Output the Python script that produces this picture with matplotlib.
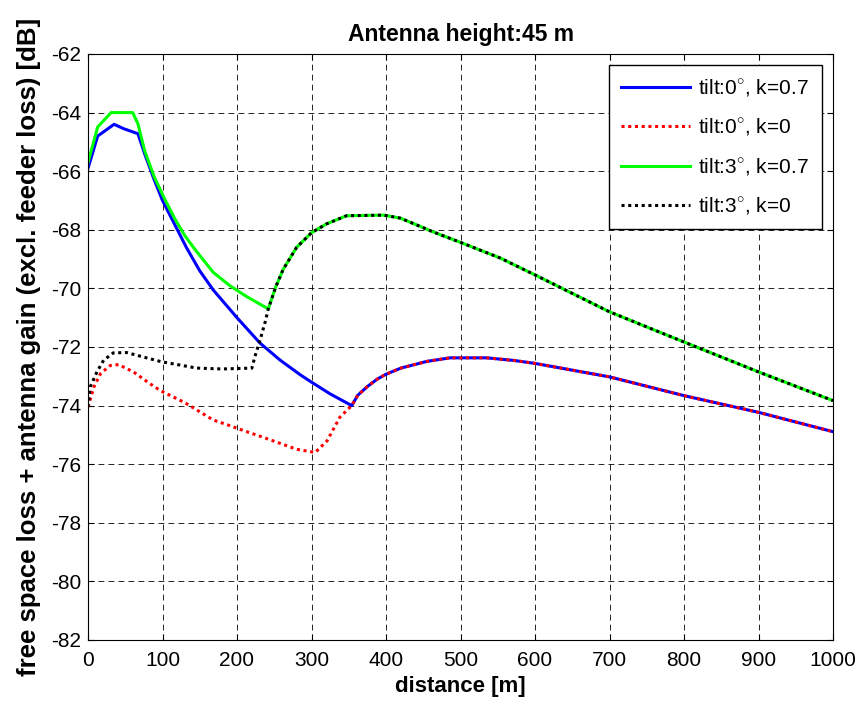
import matplotlib
matplotlib.use("Agg")
import numpy as np
import matplotlib.pyplot as plt

plt.rcParams['font.family'] = ['Liberation Sans', 'DejaVu Sans']
plt.rcParams['mathtext.fontset'] = 'custom'
plt.rcParams['mathtext.rm'] = 'Liberation Sans'
plt.rcParams['axes.unicode_minus'] = False

# tilt 0, k=0.7 (blue) before it joins the k=0 curve
d_b = [0, 13, 35, 48, 67, 76, 89, 100, 112, 132, 150, 168, 200, 231, 258, 285, 300, 325, 354]
y_b = [-65.9, -64.8, -64.4, -64.55, -64.72, -65.4, -66.3, -67.0, -67.6, -68.6, -69.4,
       -70.05, -71.0, -71.87, -72.45, -72.95, -73.2, -73.6, -74.0]

# tilt 0, k=0 (red) before the join
d_r = [0, 8, 17, 30, 41, 61, 83, 98, 130, 168, 191, 213, 236, 280, 305, 321, 338, 354]
y_r = [-74.05, -73.36, -72.9, -72.63, -72.6, -72.85, -73.25, -73.5, -73.9, -74.49,
       -74.69, -74.89, -75.09, -75.49, -75.6, -75.2, -74.4, -74.0]

# common part of both tilt 0 curves
d_t0 = [354, 362, 375, 388, 400, 420, 455, 486, 535, 572, 600, 700, 800, 900, 1000]
y_t0 = [-74.0, -73.65, -73.35, -73.1, -72.93, -72.72, -72.49, -72.37, -72.37, -72.46,
        -72.56, -73.02, -73.66, -74.23, -74.89]

# tilt 3, k=0.7 (green) before the join
d_g = [0, 13, 31, 60, 67, 76, 89, 102, 116, 130, 143, 168, 190, 213, 242]
y_g = [-65.7, -64.49, -64.0, -64.0, -64.38, -65.3, -66.2, -66.9, -67.6, -68.2, -68.65,
       -69.45, -69.9, -70.28, -70.7]

# tilt 3, k=0 (black) before the join
d_k = [0, 3, 12, 21, 34, 52, 83, 98, 146, 180, 220, 224, 231, 238, 242]
y_k = [-74.05, -73.36, -72.85, -72.45, -72.2, -72.19, -72.4, -72.5, -72.72, -72.75,
       -72.72, -72.33, -71.76, -71.13, -70.7]

# common part of both tilt 3 curves
d_t3 = [242, 252, 262, 280, 300, 320, 347, 397, 419, 440, 464, 500, 553, 600, 700,
        800, 900, 1000]
y_t3 = [-70.7, -69.95, -69.35, -68.6, -68.1, -67.8, -67.52, -67.5, -67.6, -67.82,
        -68.08, -68.43, -68.96, -69.54, -70.8, -71.83, -72.85, -73.83]

labels = [r'tilt:0$^{\circ}$, k=0.7', r'tilt:0$^{\circ}$, k=0',
          r'tilt:3$^{\circ}$, k=0.7', r'tilt:3$^{\circ}$, k=0']

fig = plt.figure(figsize=(8.59, 7.02), dpi=100)
ax = fig.add_axes([88 / 859, 1 - 640 / 702, 745 / 859, 586 / 702])

ax.plot(d_b + d_t0[1:], y_b + y_t0[1:], color=(0, 0, 1), lw=2.2, label=labels[0])
ax.plot(d_r + d_t0[1:], y_r + y_t0[1:], color=(1, 0, 0), lw=2.2,
        linestyle=(0, (1, 1.2)), label=labels[1])
ax.plot(d_g + d_t3[1:], y_g + y_t3[1:], color=(0, 1, 0), lw=2.2, label=labels[2])
ax.plot(d_k + d_t3[1:], y_k + y_t3[1:], color='k', lw=2.2,
        linestyle=(0, (1, 1.2)), label=labels[3])

ax.set_xlim(0, 1000)
ax.set_ylim(-82, -62)
ax.set_xticks(np.arange(0, 1001, 100))
ax.set_yticks(np.arange(-82, -61, 2))
ax.grid(True, color='k', lw=0.6, linestyle=(0, (7, 5)))
ax.tick_params(direction='in', top=True, right=True, length=4, width=0.8,
               labelsize=15)
ax.tick_params(axis='x', pad=8)
ax.tick_params(axis='y', pad=5)
for s in ax.spines.values():
    s.set_linewidth(0.8)

ax.set_xlabel('distance [m]', fontsize=16, fontweight='bold', labelpad=4)
ax.set_ylabel('free space loss + antenna gain (excl. feeder loss) [dB]',
              fontsize=18.5, fontweight='bold', labelpad=7)
ax.set_title('Antenna height:45 m', fontsize=16.5, fontweight='bold', pad=9)

leg = ax.legend(loc='upper right', fontsize=15, fancybox=False, framealpha=1,
                edgecolor='k', borderaxespad=0.55, handlelength=3.3,
                handletextpad=0.4, labelspacing=0.85, borderpad=0.6)
leg.get_frame().set_linewidth(1.0)

fig.savefig('out.png', dpi=100)
